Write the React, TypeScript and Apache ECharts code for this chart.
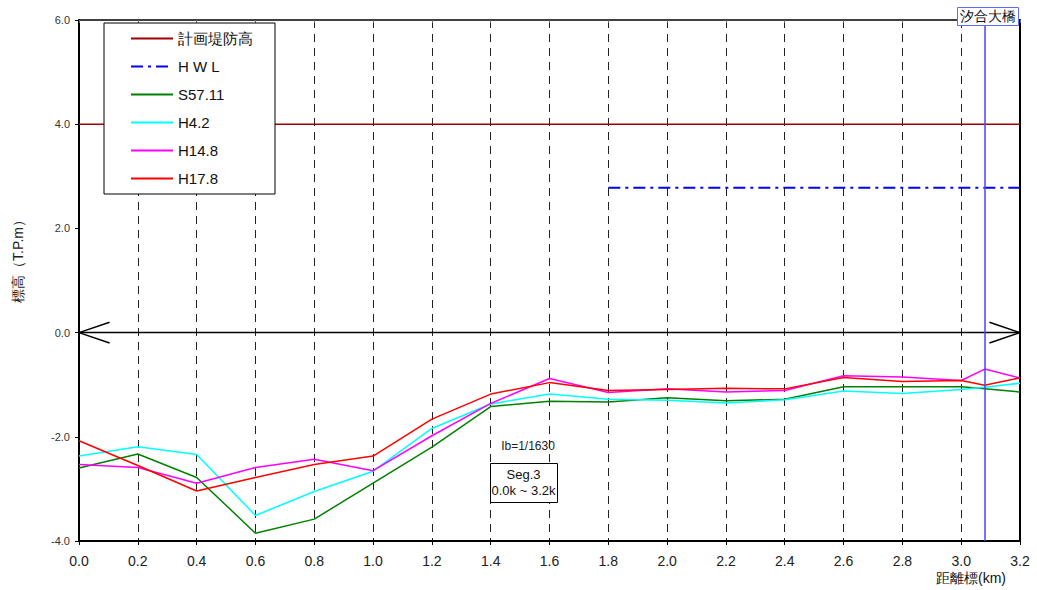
import React, { useEffect, useRef } from "react";
import * as echarts from "echarts";

const distances = [0, 0.2, 0.4, 0.6, 0.8, 1.0, 1.2, 1.4, 1.6, 1.8, 2.0, 2.2, 2.4, 2.6, 2.8, 3.0, 3.08, 3.2];
const s5711 = [-2.6, -2.33, -2.78, -3.85, -3.58, -2.89, -2.2, -1.42, -1.32, -1.33, -1.25, -1.31, -1.28, -1.04, -1.04, -1.04, -1.08, -1.14];
const h42 = [-2.37, -2.19, -2.34, -3.51, -3.05, -2.66, -1.84, -1.37, -1.18, -1.28, -1.3, -1.35, -1.29, -1.12, -1.17, -1.09, -1.05, -0.97];
const h148 = [-2.53, -2.59, -2.89, -2.59, -2.43, -2.65, -1.98, -1.36, -0.88, -1.15, -1.08, -1.14, -1.11, -0.83, -0.85, -0.92, -0.7, -0.87];
const h178 = [-2.075, -2.55, -3.04, -2.78, -2.53, -2.37, -1.66, -1.18, -0.96, -1.11, -1.09, -1.07, -1.08, -0.86, -0.94, -0.92, -1.01, -0.87];
const planX = [0, 3.2];
const planY = [4.0, 4.0];
const hwlX = [1.8, 3.2];
const hwlY = [2.78, 2.78];
const bridgeX = 3.08;
const bridgeName = "汐合大橋";
const zeroLine = [[0, 0], [3.2, 0]];
const leftArrow = [[0.104, 0.2], [0, 0], [0.104, -0.2]];
const rightArrow = [[3.096, 0.2], [3.2, 0], [3.096, -0.2]];

const zip = (xs: number[], ys: number[]) => xs.map((x, i) => [x, ys[i]]);

export default function App() {
  const ref = useRef<HTMLDivElement>(null);
  useEffect(() => {
    if (!ref.current) return;
    const chart = echarts.init(ref.current, undefined, { renderer: "svg" });
    const font = "'Liberation Sans', Arial, sans-serif";
    const lineSeries = (name: string, data: number[][], color: string, extra: any = {}) => ({
      name,
      type: "line",
      data,
      symbol: "none",
      lineStyle: { color, width: 1.5, ...(extra.lineStyle || {}) },
      itemStyle: { color },
      z: extra.z ?? 3,
      ...(extra.markLine ? { markLine: extra.markLine } : {}),
    });
    chart.setOption({
      animation: false,
      textStyle: { fontFamily: font },
      grid: { left: 79, right: 17, top: 20, bottom: 49 },
      xAxis: [
        {
          type: "value",
          min: 0,
          max: 3.2,
          interval: 0.2,
          axisLine: { show: true, onZero: false, lineStyle: { color: "#000", width: 2 } },
          axisTick: { show: true, length: 4, lineStyle: { color: "#000" } },
          axisLabel: {
            color: "#222",
            fontSize: 14,
            margin: 13,
            formatter: (v: number) => v.toFixed(1),
          },
          splitLine: { show: true, lineStyle: { color: "#222", width: 1, type: [8, 6] } },
        },
        {
          type: "value",
          position: "top",
          min: 0,
          max: 3.2,
          interval: 0.2,
          axisLine: { show: true, onZero: false, lineStyle: { color: "#000", width: 1.5 } },
          axisTick: { show: true, length: 3, inside: true, lineStyle: { color: "#666" } },
          axisLabel: { show: false },
          splitLine: { show: false },
        },
      ],
      yAxis: [
        {
          type: "value",
          min: -4,
          max: 6,
          interval: 2,
          axisLine: { show: true, onZero: false, lineStyle: { color: "#000", width: 2 } },
          axisTick: { show: true, length: 4, lineStyle: { color: "#000" } },
          axisLabel: { color: "#333", fontSize: 11, margin: 9, formatter: (v: number) => v.toFixed(1) },
          splitLine: { show: false },
        },
        {
          type: "value",
          position: "right",
          min: -4,
          max: 6,
          interval: 2,
          axisLine: { show: true, onZero: false, lineStyle: { color: "#000", width: 2 } },
          axisTick: { show: false },
          axisLabel: { show: false },
          splitLine: { show: false },
        },
      ],
      legend: {
        data: ["計画堤防高", "H W L", "S57.11", "H4.2", "H14.8", "H17.8"],
        orient: "vertical",
        left: 104,
        top: 23,
        backgroundColor: "#fff",
        borderColor: "#000",
        borderWidth: 1,
        borderRadius: 0,
        padding: [8, 22, 8, 26],
        itemWidth: 42,
        itemHeight: 14,
        itemGap: 13,
        itemStyle: { opacity: 0 },
        textStyle: { fontSize: 15, color: "#111" },
        selectedMode: false,
      },
      series: [
        lineSeries("計画堤防高", zip(planX, planY), "#a00000"),
        lineSeries("H W L", zip(hwlX, hwlY), "#0000ff", {
          lineStyle: { type: [12, 5, 3, 5], width: 2 },
          markLine: {
            silent: true,
            symbol: "none",
            label: { show: false },
            lineStyle: { color: "#4646ff", width: 1.5, type: "solid" },
            data: [{ xAxis: bridgeX }],
          },
        }),
        lineSeries("S57.11", zip(distances, s5711), "#008000"),
        lineSeries("H4.2", zip(distances, h42), "#00ffff"),
        lineSeries("H14.8", zip(distances, h148), "#ff00ff"),
        lineSeries("H17.8", zip(distances, h178), "#ff0000"),
        lineSeries("zero", zeroLine, "#000", { z: 2 }),
        lineSeries("arrowL", leftArrow, "#000", { z: 2 }),
        lineSeries("arrowR", rightArrow, "#000", { z: 2 }),
      ],
      graphic: [
        {
          type: "text",
          x: 18,
          y: 258,
          rotation: Math.PI / 2,
          style: { text: "標高（T.P.m）", fontSize: 14, fill: "#222", align: "center", verticalAlign: "middle", fontFamily: font },
          z: 100,
        },
        {
          type: "rect",
          left: 957,
          top: 7,
          shape: { width: 61, height: 18 },
          style: { fill: "#fff", stroke: "#5a6cff", lineWidth: 1 },
          z: 100,
        },
        {
          type: "text",
          x: 987.5,
          y: 16,
          style: { text: bridgeName, fontSize: 14, fill: "#111", align: "center", verticalAlign: "middle", fontFamily: font },
          z: 101,
        },
        {
          type: "text",
          x: 528,
          y: 446,
          style: { text: "Ib=1/1630", fontSize: 12, fill: "#222", align: "center", verticalAlign: "middle", fontFamily: font },
          z: 100,
        },
        {
          type: "rect",
          left: 490,
          top: 463,
          shape: { width: 67, height: 39 },
          style: { fill: "#fff", stroke: "#000", lineWidth: 1 },
          z: 100,
        },
        {
          type: "text",
          x: 523.5,
          y: 474,
          style: { text: "Seg.3", fontSize: 13, fill: "#111", align: "center", verticalAlign: "middle", fontFamily: font },
          z: 101,
        },
        {
          type: "text",
          x: 523.5,
          y: 490,
          style: { text: "0.0k ~ 3.2k", fontSize: 13, fill: "#111", align: "center", verticalAlign: "middle", fontFamily: font },
          z: 101,
        },
        {
          type: "text",
          x: 971,
          y: 578,
          style: { text: "距離標(km)", fontSize: 14, fill: "#111", align: "center", verticalAlign: "middle", fontFamily: font },
          z: 100,
        },
      ],
    });
    return () => chart.dispose();
  }, []);
  return (
    <div
      ref={ref}
      style={{ position: "fixed", left: 0, top: 0, width: 1037, height: 590, background: "#fff" }}
    />
  );
}
